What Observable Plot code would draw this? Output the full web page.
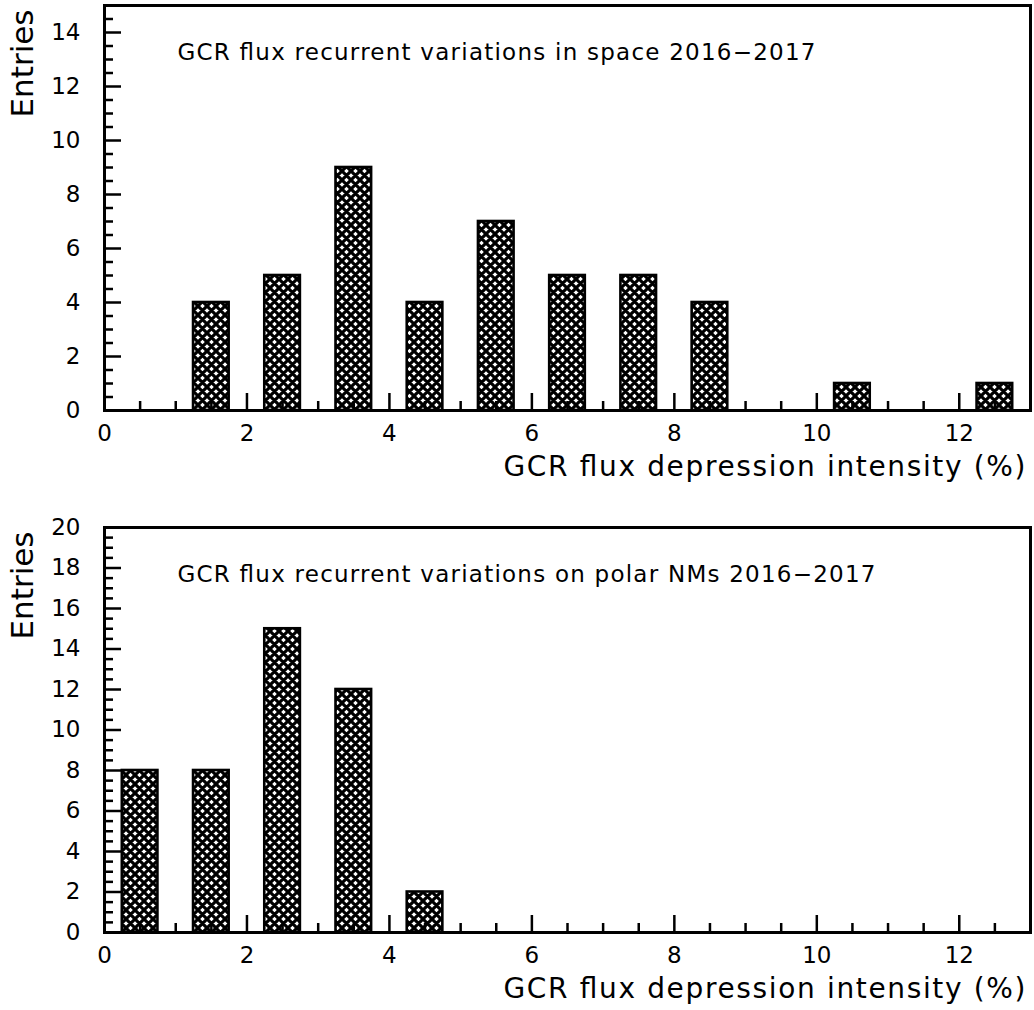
<!DOCTYPE html>
<html><head><meta charset="utf-8">
<script src="https://cdn.jsdelivr.net/npm/d3@7"></script>
<script src="https://cdn.jsdelivr.net/npm/@observablehq/plot@0.6"></script>
<style>
body{margin:0;background:#fff}
#chart svg{display:block}
</style>
</head><body><div id="chart"></div>
<script>
// ---- data ----
const binCenters1 = [1.5, 2.5, 3.5, 4.5, 5.5, 6.5, 7.5, 8.5, 10.5, 12.5];
const counts1     = [4, 5, 9, 4, 7, 5, 5, 4, 1, 1];
const binCenters2 = [0.5, 1.5, 2.5, 3.5, 4.5];
const counts2     = [8, 8, 15, 12, 2];
const binWidth = 0.5;
const title1 = "GCR flux recurrent variations in space 2016−2017";
const title2 = "GCR flux recurrent variations on polar NMs 2016−2017";
const xLabel = "GCR flux depression intensity (%)";
const yLabel = "Entries";
const xMajor = [0, 2, 4, 6, 8, 10, 12];
const yMajor1 = [0, 2, 4, 6, 8, 10, 12, 14];
const yMajor2 = [0, 2, 4, 6, 8, 10, 12, 14, 16, 18, 20];

const FONT = "DejaVu Sans, Verdana, sans-serif";

function panel({centers, counts, title, titleLen, yMajor, yMax, marginTop, marginBottom, pid}) {
  const data = centers.map((c, i) => ({x: c, n: counts[i]}));
  const xMinor = d3.range(0, 13, 0.5).filter(v => v % 2 !== 0);
  const yMinor = d3.range(0, yMax, 0.5).filter(v => v % 2 !== 0);
  const svg = Plot.plot({
    width: 1034,
    height: 505,
    marginLeft: 104,
    marginRight: 4,
    marginTop,
    marginBottom,
    style: {fontFamily: FONT, fontSize: "23px", color: "black", background: "white", overflow: "visible"},
    x: {domain: [0, 13]},
    y: {domain: [0, yMax]},
    marks: [
      Plot.rectY(data, {x1: d => d.x - binWidth / 2, x2: d => d.x + binWidth / 2, y: "n",
        fill: `url(#${pid})`, stroke: "black", strokeWidth: 2.6}),
      Plot.axisX(xMajor, {tickSize: -17, tickFormat: () => "", stroke: "black", strokeWidth: 2.5, label: null}),
      Plot.axisX(xMinor, {tickSize: -9, tickFormat: () => "", stroke: "black", strokeWidth: 2.5, label: null}),
      Plot.axisX(xMajor, {tickSize: 0, tickPadding: 14, fontSize: 23, label: null}),
      Plot.axisY(yMajor, {tickSize: -17, tickFormat: () => "", stroke: "black", strokeWidth: 2.5, label: null}),
      Plot.axisY(yMajor, {tickSize: 0, tickPadding: 24, fontSize: 23, label: null}),
      Plot.axisY(yMinor, {tickSize: -9, tickFormat: () => "", stroke: "black", strokeWidth: 2.5, label: null}),
      Plot.frame({stroke: "black", strokeWidth: 3}),
      Plot.text([title], {frameAnchor: "top-left", dx: 73, dy: 54, text: d => d,
        textAnchor: "start", lineAnchor: "bottom", fontSize: 23}),
      Plot.text([yLabel], {frameAnchor: "top-left", rotate: -90, textAnchor: "end", lineAnchor: "middle",
        dx: -81, dy: 4, fontSize: 31, text: d => d}),
      Plot.text([xLabel], {frameAnchor: "bottom-right", textAnchor: "end", lineAnchor: "bottom",
        dx: -5, dy: 65, fontSize: 28, text: d => d})
    ]
  });
  const ns = "http://www.w3.org/2000/svg";
  const defs = document.createElementNS(ns, "defs");
  defs.innerHTML = `<pattern id="${pid}" patternUnits="userSpaceOnUse" width="9" height="9">
    <rect width="9" height="9" fill="white"/>
    <path d="M0,0L9,9M9,0L0,9M-2,7L2,11M7,-2L11,2M-2,2L2,-2M7,11L11,7" stroke="black" stroke-width="3.1"/>
  </pattern>`;
  svg.insertBefore(defs, svg.firstChild);
  // stretch text spacing to match the reference's wide font
  svg.querySelectorAll("text").forEach(t => {
    if (t.textContent === title) { t.setAttribute("textLength", titleLen); t.setAttribute("lengthAdjust", "spacing"); }
    if (t.textContent === xLabel) { t.setAttribute("textLength", 522); t.setAttribute("lengthAdjust", "spacing"); }
  });
  return svg;
}

const chart = document.getElementById("chart");
chart.appendChild(panel({centers: binCenters1, counts: counts1, title: title1, titleLen: 638, yMajor: yMajor1, yMax: 15,
  marginTop: 5, marginBottom: 95, pid: "xh1"}));
chart.appendChild(panel({centers: binCenters2, counts: counts2, title: title2, titleLen: 698, yMajor: yMajor2, yMax: 20,
  marginTop: 22, marginBottom: 78, pid: "xh2"}));
</script>
</body></html>
